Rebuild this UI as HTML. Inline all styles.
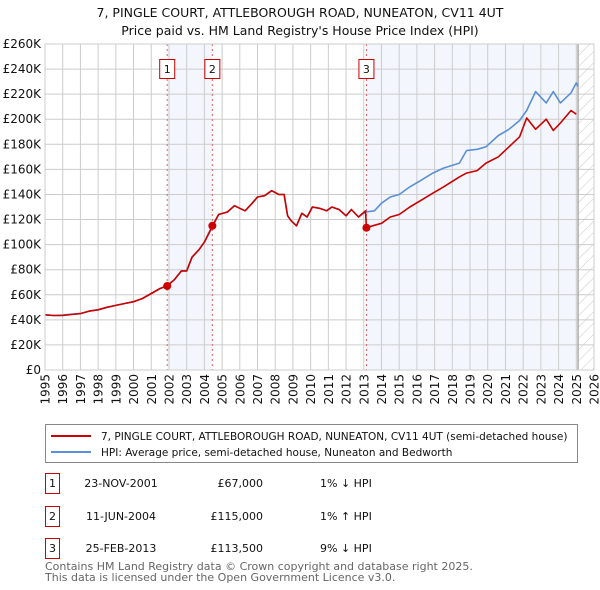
<!DOCTYPE html>
<html><head><meta charset="utf-8"><style>
body{margin:0;background:#fff;}
svg{display:block;font-family:"DejaVu Sans","Liberation Sans",sans-serif;}
</style></head><body>
<svg id="chart" width="600" height="590" xmlns="http://www.w3.org/2000/svg">
<defs><pattern id="hatch" width="8" height="8" patternUnits="userSpaceOnUse" patternTransform="rotate(45)"><line x1="0" y1="0" x2="0" y2="8" stroke="#bbb" stroke-width="0.8"/></pattern></defs>
<text x="300" y="17" text-anchor="middle" font-size="12.5" fill="#111">7, PINGLE COURT, ATTLEBOROUGH ROAD, NUNEATON, CV11 4UT</text>
<text x="300" y="35" text-anchor="middle" font-size="12.5" fill="#111">Price paid vs. HM Land Registry's House Price Index (HPI)</text>
<g id="plot"></g>
<g>
<rect x="45.5" y="424.5" width="532" height="38" fill="#fff" stroke="#888"/>
<line x1="51" y1="436" x2="91" y2="436" stroke="#cc0000" stroke-width="2"/>
<text x="101" y="440" font-size="10.5" fill="#111">7, PINGLE COURT, ATTLEBOROUGH ROAD, NUNEATON, CV11 4UT (semi-detached house)</text>
<line x1="51" y1="452" x2="91" y2="452" stroke="#5b8fd6" stroke-width="2"/>
<text x="101" y="456" font-size="10.5" fill="#111">HPI: Average price, semi-detached house, Nuneaton and Bedworth</text>
</g>
<g id="table" font-size="11" fill="#111"></g>
<text x="45" y="570" font-size="11" fill="#666">Contains HM Land Registry data © Crown copyright and database right 2025.</text>
<text x="45" y="581" font-size="11" fill="#666">This data is licensed under the Open Government Licence v3.0.</text>
</svg>
<script>
const hpiDates=[1995,1995.5,1996,1996.5,1997,1997.5,1998,1998.5,1999,1999.5,2000,2000.5,2001,2001.5,2001.9,2002.3,2002.7,2003,2003.3,2003.7,2004,2004.45,2004.8,2005.3,2005.7,2006,2006.3,2006.7,2007,2007.4,2007.8,2008.2,2008.5,2008.7,2008.9,2009.2,2009.5,2009.8,2010.1,2010.5,2010.9,2011.2,2011.6,2012,2012.3,2012.7,2013.1,2013.6,2014,2014.5,2015,2015.6,2016.2,2016.9,2017.5,2018.4,2018.8,2019.4,2019.9,2020.6,2021.2,2021.8,2022.2,2022.7,2023.3,2023.7,2024.1,2024.7,2025.0,2025.1];
const hpiValues=[44,43.5,43.8,44.5,45,47,48,50,51.5,53,54.5,57,61,65,67.5,72,79,79,90,96,102,114,124,126,131,129,127,133,138,139,143,140,140,123,119,115,125,122,130,129,127,130,128,123,128,122,126,127,133,138,140,146,151,157,161,165,175,176,178,187,192,199,207,222,213,222,213,221,229,226];
const propDates=[1995,1995.5,1996,1996.5,1997,1997.5,1998,1998.5,1999,1999.5,2000,2000.5,2001,2001.5,2001.9,2002.3,2002.7,2003,2003.3,2003.7,2004,2004.45,2004.8,2005.3,2005.7,2006,2006.3,2006.7,2007,2007.4,2007.8,2008.2,2008.5,2008.7,2008.9,2009.2,2009.5,2009.8,2010.1,2010.5,2010.9,2011.2,2011.6,2012,2012.3,2012.7,2013.1,2013.15,2013.5,2014,2014.5,2015,2015.6,2016.2,2016.9,2017.5,2018.4,2018.8,2019.4,2019.9,2020.6,2021.2,2021.8,2022.2,2022.7,2023.3,2023.7,2024.1,2024.7,2025.0,2025.1];
const propValues=[44,43.5,43.5,44.3,45,47,48,50,51.5,53,54.5,57,61,65,67,72,79,79,90,96,102,115,124,126,131,129,127,133,138,139,143,140,140,123,119,115,125,122,130,129,127,130,128,123,128,122,127,113.5,115,117,122,124,130,135,141,146,154,157,159,165,170,178,186,201,192,200,191,197,207,204];
const saleDates=[2001.9,2004.45,2013.15];
const saleValues=[67,115,113.5];
const saleLabels=["1","2","3"];
const saleDateText=["23-NOV-2001","11-JUN-2004","25-FEB-2013"];
const salePriceText=["£67,000","£115,000","£113,500"];
const saleHpiText=["1% ↓ HPI","1% ↑ HPI","9% ↓ HPI"];
const yTicks=[0,20,40,60,80,100,120,140,160,180,200,220,240,260];
const yTickLabels=["£0","£20K","£40K","£60K","£80K","£100K","£120K","£140K","£160K","£180K","£200K","£220K","£240K","£260K"];
const xYears=[1995,1996,1997,1998,1999,2000,2001,2002,2003,2004,2005,2006,2007,2008,2009,2010,2011,2012,2013,2014,2015,2016,2017,2018,2019,2020,2021,2022,2023,2024,2025,2026];
const dataEnd=2025.1;

const NS="http://www.w3.org/2000/svg";
const L=45,R=594,T=44,B=370;
const xs=y=>L+(y-1995)/(2026-1995)*(R-L);
const ys=v=>B-v/260*(B-T);
const plot=document.getElementById('plot');
function mk(tag,attrs,parent){const e=document.createElementNS(NS,tag);for(const k in attrs)e.setAttribute(k,attrs[k]);(parent||plot).appendChild(e);return e;}

const bg=mk('rect',{x:L,y:T,width:R-L,height:B-T,fill:'#fff'});


const sh1=mk('rect',{x:xs(saleDates[0]),y:T,width:xs(saleDates[1])-xs(saleDates[0]),height:B-T,fill:'#eef3fc',opacity:0.7});


const sh2=mk('rect',{x:xs(saleDates[2]),y:T,width:xs(dataEnd)-xs(saleDates[2]),height:B-T,fill:'#eef3fc',opacity:0.7});


const hz=mk('rect',{x:xs(dataEnd),y:T,width:R-xs(dataEnd),height:B-T,fill:'url(#hatch)'});



yTicks.forEach((v,i)=>{
  const g=mk('line',{x1:L,x2:R,y1:ys(v),y2:ys(v),stroke:'#ccc','stroke-width':1});
  
  
  const t=mk('text',{x:L-4,y:ys(v)+4,'text-anchor':'end','font-size':12,fill:'#111'});
  t.textContent=yTickLabels[i];
  
  
});
xYears.forEach(yr=>{
  const g=mk('line',{x1:xs(yr),x2:xs(yr),y1:T,y2:B,stroke:'#ccc','stroke-width':1});
  
  
  const tx=xs(yr)+4.5, ty=374;
  const t=mk('text',{x:tx,y:ty,'text-anchor':'end','font-size':12,fill:'#111',transform:'rotate(-90 '+tx+' '+ty+')'});
  t.textContent=yr;
  
  
});
const el=mk('line',{x1:xs(dataEnd),x2:xs(dataEnd),y1:T,y2:B,stroke:'#999','stroke-width':1.2});



saleDates.forEach((d,i)=>{
  const v=mk('line',{x1:xs(d),x2:xs(d),y1:T,y2:B,stroke:'#e06060','stroke-width':1,'stroke-dasharray':'2,3'});
  
  
});

function path(dates,vals,color,name){
  const d=dates.map((x,i)=>(i?'L':'M')+xs(x).toFixed(1)+','+ys(vals[i]).toFixed(1)).join(' ');
  const p=mk('path',{d:d,fill:'none',stroke:color,'stroke-width':1.6,'stroke-linejoin':'round'});
  
  
}
path(hpiDates,hpiValues,'#5b8fd6','hpi-line');
path(propDates,propValues,'#cc0000','property-line');

saleDates.forEach((d,i)=>{
  const c=mk('circle',{cx:xs(d),cy:ys(saleValues[i]),r:4,fill:'#cc0000'});
  
  
  const b=mk('rect',{x:xs(d)-7.5,y:59.5,width:15,height:19,fill:'#fff',stroke:'#cc0000'});
  
  
  const t=mk('text',{x:xs(d),y:73,'text-anchor':'middle','font-size':11,fill:'#111'});
  t.textContent=saleLabels[i];
  
  
});
const fr=mk('rect',{x:L,y:T,width:R-L,height:B-T,fill:'none',stroke:'#ccc'});



const table=document.getElementById('table');
const rowY=[483,516,548];
saleLabels.forEach((lab,i)=>{
  const y=rowY[i];
  const b=mk('rect',{x:45.5,y:y-9.5,width:14,height:20,fill:'#fff',stroke:'#cc0000'},table);
  
  
  const cells=[[52.5,lab,'middle'],[121,saleDateText[i],'middle'],[263,salePriceText[i],'end'],[320,saleHpiText[i],'start']];
  cells.forEach(c=>{
    const t=mk('text',{x:c[0],y:y+4,'text-anchor':c[2]},table);
    t.textContent=c[1];
    
    
  });
});
</script>
</body></html>
